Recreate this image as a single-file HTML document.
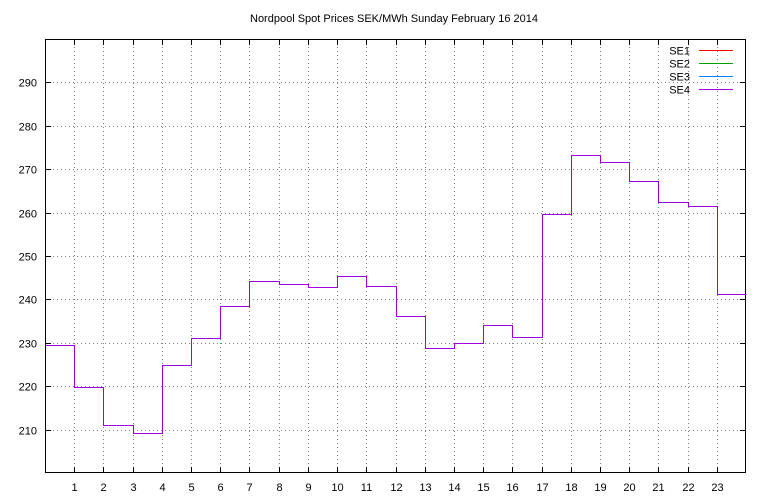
<!DOCTYPE html>
<html><head><meta charset="utf-8"><style>
html,body{margin:0;padding:0;background:#fff;}
svg{display:block;font-family:"Liberation Sans",sans-serif;font-size:11px;}
line,path,rect{shape-rendering:crispEdges;}
</style></head><body>
<svg id="chart" width="768" height="500"></svg>
<script>
const hours = [0,1,2,3,4,5,6,7,8,9,10,11,12,13,14,15,16,17,18,19,20,21,22,23];
const se1 = [229.5,219.8,211.0,209.3,225.0,231.0,238.5,244.3,243.6,242.8,245.5,243.0,236.2,228.8,230.0,234.0,231.4,259.7,273.3,271.6,267.2,262.4,261.5,241.3];
const se2 = se1.slice();
const se3 = se1.slice();
const se4 = se1.slice();
const yTicks = [210,220,230,240,250,260,270,280,290];
const xTicks = [1,2,3,4,5,6,7,8,9,10,11,12,13,14,15,16,17,18,19,20,21,22,23];
const seriesNames = ["SE1","SE2","SE3","SE4"];
const seriesColors = ["#ff0000","#00a000","#0080ff","#a000e0"];
const seriesData = [se1,se2,se3,se4];

const L=45,R=746,T=39,B=473, X0=0,X1=24,Y0=200,Y1=300;
const sx=v=>Math.round(L+(v-X0)/(X1-X0)*(R-L))+0.5;
const sy=v=>Math.round(B-(v-Y0)/(Y1-Y0)*(B-T))+0.5;
const NS="http://www.w3.org/2000/svg";
const svg=document.getElementById('chart');
function mk(tag,attrs,parent){const e=document.createElementNS(NS,tag);for(const k in attrs)e.setAttribute(k,attrs[k]);(parent||svg).appendChild(e);return e;}

const title=mk('text',{x:394,y:22,'text-anchor':'middle'});


title.textContent='Nordpool Spot Prices SEK/MWh Sunday February 16 2014';

yTicks.forEach(v=>{
  const g=mk('line',{x1:L,x2:R,y1:sy(v),y2:sy(v),stroke:'#808080','stroke-dasharray':'1,3'});
  
  
  mk('line',{x1:L,x2:L+6,y1:sy(v),y2:sy(v),stroke:'#000'});
  mk('line',{x1:R,x2:R-6,y1:sy(v),y2:sy(v),stroke:'#000'});
  const t=mk('text',{x:37,y:sy(v)+4,'text-anchor':'end'});
  
  
  t.textContent=v;
});
xTicks.forEach(v=>{
  const g=mk('line',{x1:sx(v),x2:sx(v),y1:T,y2:B,stroke:'#808080','stroke-dasharray':'1,3'});
  
  
  mk('line',{x1:sx(v),x2:sx(v),y1:B,y2:B-6,stroke:'#000'});
  mk('line',{x1:sx(v),x2:sx(v),y1:T,y2:T+6,stroke:'#000'});
  const t=mk('text',{x:sx(v),y:491,'text-anchor':'middle'});
  
  
  t.textContent=v;
});
const frame=mk('rect',{x:L+0.5,y:T+0.5,width:R-L-1,height:B-T-1,fill:'none',stroke:'#000'});



seriesData.forEach((d,si)=>{
  let p='';
  d.forEach((v,i)=>{
    const x0=sx(hours[i]), x1=sx(hours[i]+1), y=sy(v);
    p+=(i===0?'M':'L')+x0+','+y+' L'+x1+','+y+' ';
  });
  const path=mk('path',{d:p,fill:'none',stroke:seriesColors[si],'stroke-width':1});
  
  
  const ly=50.5+si*13;
  const lt=mk('text',{x:690,y:ly+4,'text-anchor':'end'});
  
  
  lt.textContent=seriesNames[si];
  const ll=mk('line',{x1:699,x2:733,y1:ly,y2:ly,stroke:seriesColors[si]});
  
  
});
</script>
</body></html>
